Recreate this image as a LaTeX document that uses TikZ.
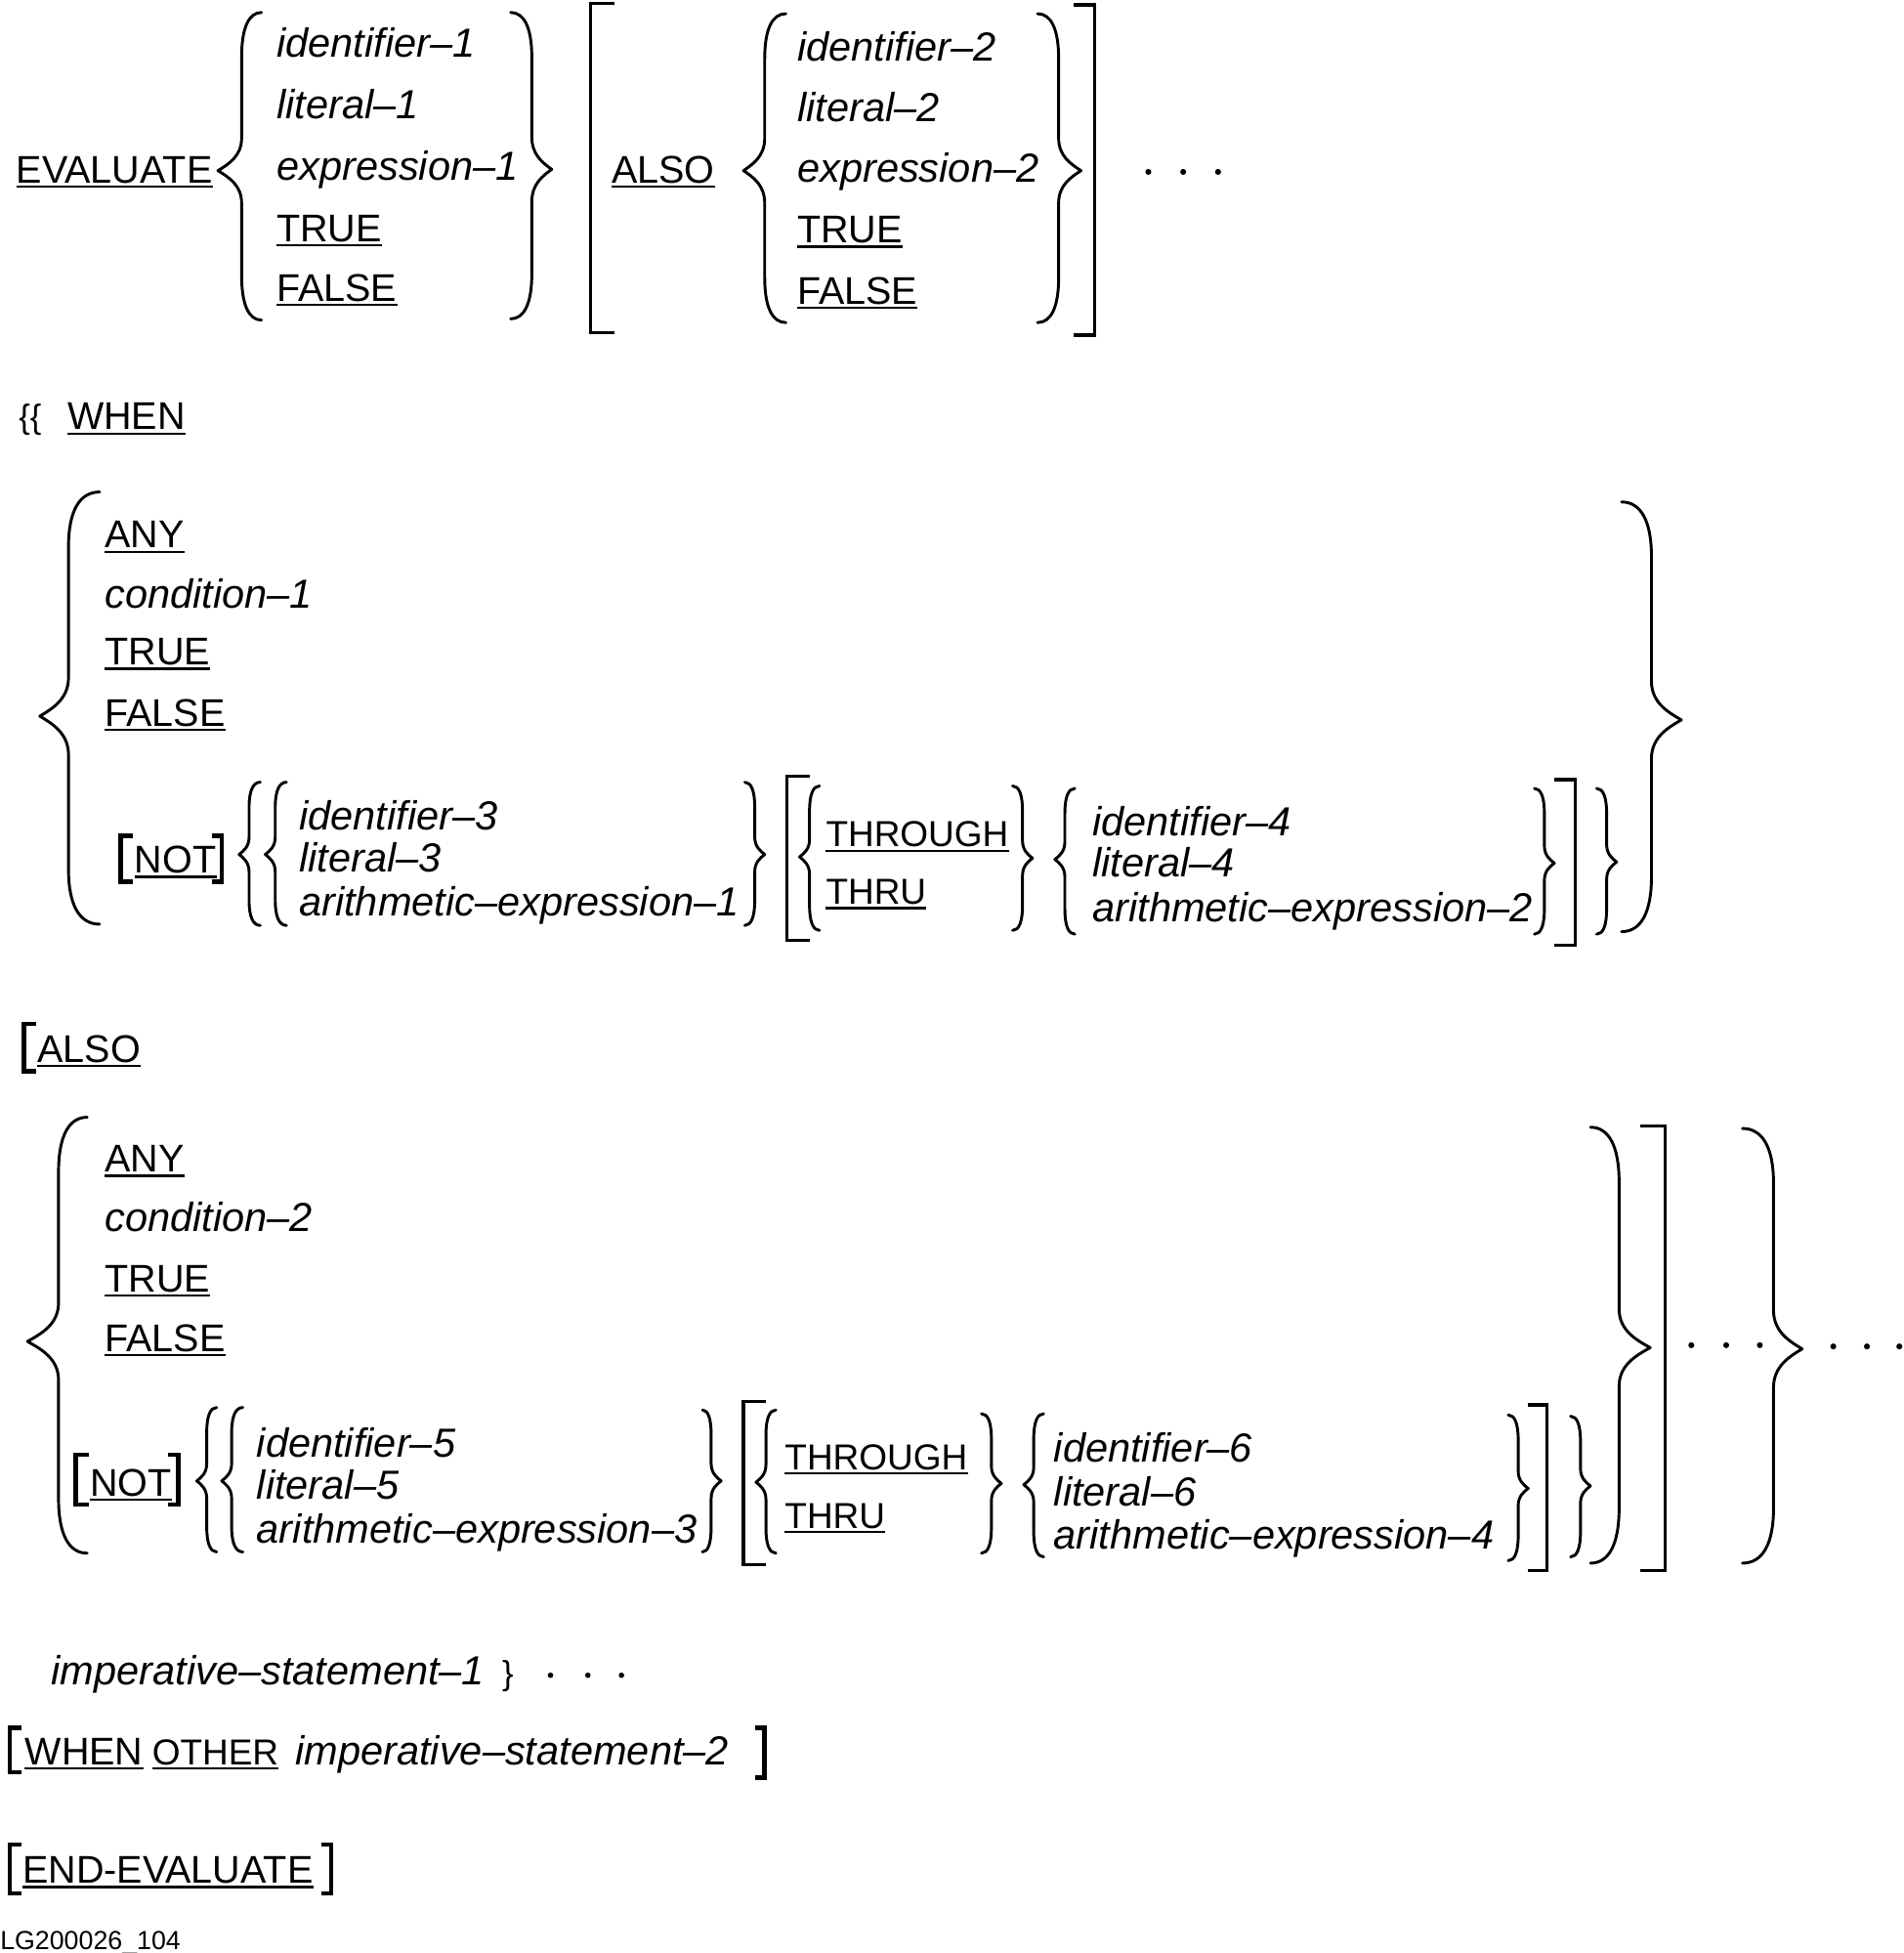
\documentclass[tikz,border=0pt]{standalone}
\usepackage{fontspec}
\setmainfont{Liberation Sans}
\newcommand{\varfnt}{\fontsize{32.6}{32.6}\selectfont\itshape}
\newcommand{\kwfnt}{\fontsize{31}{31}\selectfont}
\newcommand{\kwnfnt}{\fontsize{29}{29}\selectfont}
\newcommand{\smfnt}{\fontsize{27}{27}\selectfont}
\newcommand{\tagfnt}{\fontsize{21}{21}\selectfont}
\tikzset{
  var/.style={font=\varfnt, anchor=base west, inner sep=0pt},
  kw/.style={font=\kwfnt, anchor=base west, inner sep=0pt},
  kwn/.style={font=\kwnfnt, anchor=base west, inner sep=0pt},
  ulline/.style={line width=1.8pt},
  brace/.style={line width=2.3pt, line cap=round, line join=round},
  bk/.style={line width=2.6pt},
  tbk/.style={line width=3.6pt},
  dotmark/.style={fill=black}
}
% brace: tip x, top y, mid y, bottom y, a (tip->vertical, signed), b (hook, signed), hv (hook height), tv (tip height)
\newcommand{\Brc}[8]{%
  \pgfmathsetmacro{\bxv}{#1+#5}%
  \pgfmathsetmacro{\bxe}{#1+#5+#6}%
  \pgfmathsetmacro{\bxh}{#1+#5+0.35*#6}%
  \pgfmathsetmacro{\bya}{#2+#7}%
  \pgfmathsetmacro{\byah}{#2+0.35*#7}%
  \pgfmathsetmacro{\byb}{#3-#8}%
  \pgfmathsetmacro{\bybc}{#3-0.45*#8}%
  \pgfmathsetmacro{\bytc}{#3-0.2*#8}%
  \pgfmathsetmacro{\bxtc}{#1+0.45*#5}%
  \pgfmathsetmacro{\byc}{#3+#8}%
  \pgfmathsetmacro{\bycc}{#3+0.45*#8}%
  \pgfmathsetmacro{\bybt}{#3+0.2*#8}%
  \pgfmathsetmacro{\byd}{#4-#7}%
  \pgfmathsetmacro{\bydh}{#4-0.35*#7}%
  \draw[brace] (\bxe,#2) .. controls (\bxh,#2) and (\bxv,\byah) .. (\bxv,\bya) -- (\bxv,\byb)
     .. controls (\bxv,\bybc) and (\bxtc,\bytc) .. (#1,#3)
     .. controls (\bxtc,\bybt) and (\bxv,\bycc) .. (\bxv,\byc)
     -- (\bxv,\byd) .. controls (\bxv,\bydh) and (\bxh,#4) .. (\bxe,#4);%
}
\newcommand{\LBrace}[8]{\Brc{#1}{#2}{#3}{#4}{#5}{#6}{#7}{#8}}
\newcommand{\RBrace}[8]{\Brc{#1}{#2}{#3}{#4}{-#5}{-#6}{#7}{#8}}
% bracket: x, top, bottom, serif end x, style
\newcommand{\Bk}[5]{\draw[#5] (#4,#2) -- (#1,#2) -- (#1,#3) -- (#4,#3);}
\newcommand{\UL}[1]{\draw[ulline] ([yshift=-3pt]#1.base west) -- ([yshift=-3pt]#1.base east);}
\begin{document}
\begin{tikzpicture}[x=1pt,y=-1pt]
\useasboundingbox (0,0) rectangle (1528,1568);
\fill[white] (0,0) rectangle (1528,1568);

% ---------- Row 1 ----------
\node[kw] (ev) at (13,147) {EVALUATE}; \UL{ev}
\LBrace{175}{10}{137}{257}{19}{16}{36}{26}
\node[var] (id1) at (222,46) {identifier–1};
\node[var] (li1) at (222,95) {literal–1};
\node[var] (ex1) at (222,145) {expression–1};
\node[kw] (tr1) at (222,194) {TRUE}; \UL{tr1}
\node[kw] (fa1) at (222,242) {FALSE}; \UL{fa1}
\RBrace{443}{10}{136}{256}{16}{17}{36}{26}
\Bk{474}{3}{267}{493}{bk}
\node[kw] (al1) at (491,147) {ALSO}; \UL{al1}
\LBrace{597}{11}{137}{259}{17}{17}{36}{26}
\node[var] (id2) at (640,49) {identifier–2};
\node[var] (li2) at (640,98) {literal–2};
\node[var] (ex2) at (640,146) {expression–2};
\node[kw] (tr2) at (640,195) {TRUE}; \UL{tr2}
\node[kw] (fa2) at (640,244) {FALSE}; \UL{fa2}
\RBrace{868}{11}{137}{259}{18}{17}{36}{26}
\Bk{879}{4}{269}{862}{bk}
\foreach \dx in {922,950,978} \fill[dotmark] (\dx,138) circle (2.4pt);

% ---------- WHEN ----------
\node[font=\smfnt, anchor=base west, inner sep=0pt] (bb) at (15,344) {\{\{};
\node[kw] (wh) at (54,345) {WHEN}; \UL{wh}

% ---------- Block 1 ----------
\LBrace{32}{395}{575}{742}{23}{25}{44}{31}
\node[kw] (any1) at (84,440) {ANY}; \UL{any1}
\node[var] (co1) at (84,488) {condition–1};
\node[kw] (tr3) at (84,534) {TRUE}; \UL{tr3}
\node[kw] (fa3) at (84,583) {FALSE}; \UL{fa3}
\Bk{97}{671}{708}{107}{tbk}
\node[kw] (not1) at (108,701) {NOT}; \UL{not1}
\Bk{178}{671}{708}{170}{tbk}
\LBrace{192}{628}{686}{743}{8}{9}{20}{14}
\LBrace{213}{628}{686}{743}{8}{9}{20}{14}
\node[var] (id3) at (240,666) {identifier–3};
\node[var] (li3) at (240,700) {literal–3};
\node[var] (ar1) at (240,735) {arithmetic–expression–1};
\RBrace{614}{628}{686}{743}{8}{8}{20}{14}
\Bk{632}{623}{755}{650}{bk}
\LBrace{642}{631}{688}{747}{8}{8}{20}{14}
\node[kwn] (thg1) at (663,680) {THROUGH}; \UL{thg1}
\node[kwn] (thr1) at (663,726) {THRU}; \UL{thr1}
\RBrace{829}{631}{689}{747}{8}{8}{20}{14}
\LBrace{847}{633}{690}{750}{8}{8}{20}{14}
\node[var] (id4) at (877,671) {identifier–4};
\node[var] (li4) at (877,704) {literal–4};
\node[var] (ar2) at (877,740) {arithmetic–expression–2};
\RBrace{1248}{633}{693}{750}{8}{8}{20}{14}
\Bk{1265}{626}{759}{1248}{bk}
\RBrace{1298}{633}{692}{750}{8}{8}{20}{14}
\RBrace{1350}{403}{578}{748}{24}{24}{44}{31}

% ---------- [ALSO ----------
\Bk{19}{822}{860}{29}{tbk}
\node[kw] (al2) at (30,853) {ALSO}; \UL{al2}

% ---------- Block 2 ----------
\LBrace{22}{897}{1077}{1247}{25}{23}{44}{31}
\node[kw] (any2) at (84,941) {ANY}; \UL{any2}
\node[var] (co2) at (84,989) {condition–2};
\node[kw] (tr4) at (84,1037) {TRUE}; \UL{tr4}
\node[kw] (fa4) at (84,1085) {FALSE}; \UL{fa4}
\Bk{61}{1168}{1208}{71}{tbk}
\node[kw] (not2) at (72,1201) {NOT}; \UL{not2}
\Bk{143}{1168}{1208}{135}{tbk}
\LBrace{158}{1130}{1189}{1246}{8}{8}{20}{14}
\LBrace{178}{1130}{1189}{1246}{8}{9}{20}{14}
\node[var] (id5) at (206,1170) {identifier–5};
\node[var] (li5) at (206,1204) {literal–5};
\node[var] (ar3) at (206,1239) {arithmetic–expression–3};
\RBrace{579}{1132}{1189}{1246}{8}{7}{20}{14}
\Bk{597}{1125}{1256}{615}{bk}
\LBrace{607}{1132}{1190}{1247}{8}{8}{20}{14}
\node[kwn] (thg2) at (630,1180) {THROUGH}; \UL{thg2}
\node[kwn] (thr2) at (630,1227) {THRU}; \UL{thr2}
\RBrace{804}{1135}{1191}{1247}{8}{8}{20}{14}
\LBrace{822}{1135}{1192}{1250}{8}{8}{20}{14}
\node[var] (id6) at (846,1174) {identifier–6};
\node[var] (li6) at (846,1209) {literal–6};
\node[var] (ar4) at (846,1244) {arithmetic–expression–4};
\RBrace{1227}{1136}{1195}{1253}{8}{8}{20}{14}
\Bk{1242}{1128}{1261}{1227}{bk}
\RBrace{1277}{1137}{1193}{1250}{8}{8}{20}{14}
\RBrace{1325}{905}{1082}{1255}{25}{23}{44}{31}
\Bk{1337}{904}{1261}{1317}{bk}
\foreach \dx in {1358,1386,1413} \fill[dotmark] (\dx,1080) circle (2.4pt);
\RBrace{1447}{906}{1083}{1255}{23}{25}{44}{31}
\foreach \dx in {1472,1499,1525} \fill[dotmark] (\dx,1081) circle (2.4pt);

% ---------- Bottom ----------
\node[var] (im1) at (41,1353) {imperative–statement–1};
\node[font=\smfnt, anchor=base west, inner sep=0pt] (cb) at (403,1353) {\}};
\foreach \dx in {442,472,499} \fill[dotmark] (\dx,1345) circle (2.2pt);
\Bk{8}{1387}{1423}{17}{tbk}
\node[kw] (wh2) at (20,1417) {WHEN}; \UL{wh2}
\node[kwn] (oth) at (122,1417) {OTHER}; \UL{oth}
\node[var] (im2) at (237,1417) {imperative–statement–2};
\Bk{614}{1387}{1427}{606}{tbk}
\Bk{8}{1481}{1520}{17}{tbk}
\node[kw] (ee) at (18,1512) {END-EVALUATE}; \UL{ee}
\Bk{266}{1481}{1520}{258}{tbk}
\node[font=\tagfnt, anchor=base west, inner sep=0pt] (tag) at (0,1565) {LG200026\_104};
\end{tikzpicture}
\end{document}
